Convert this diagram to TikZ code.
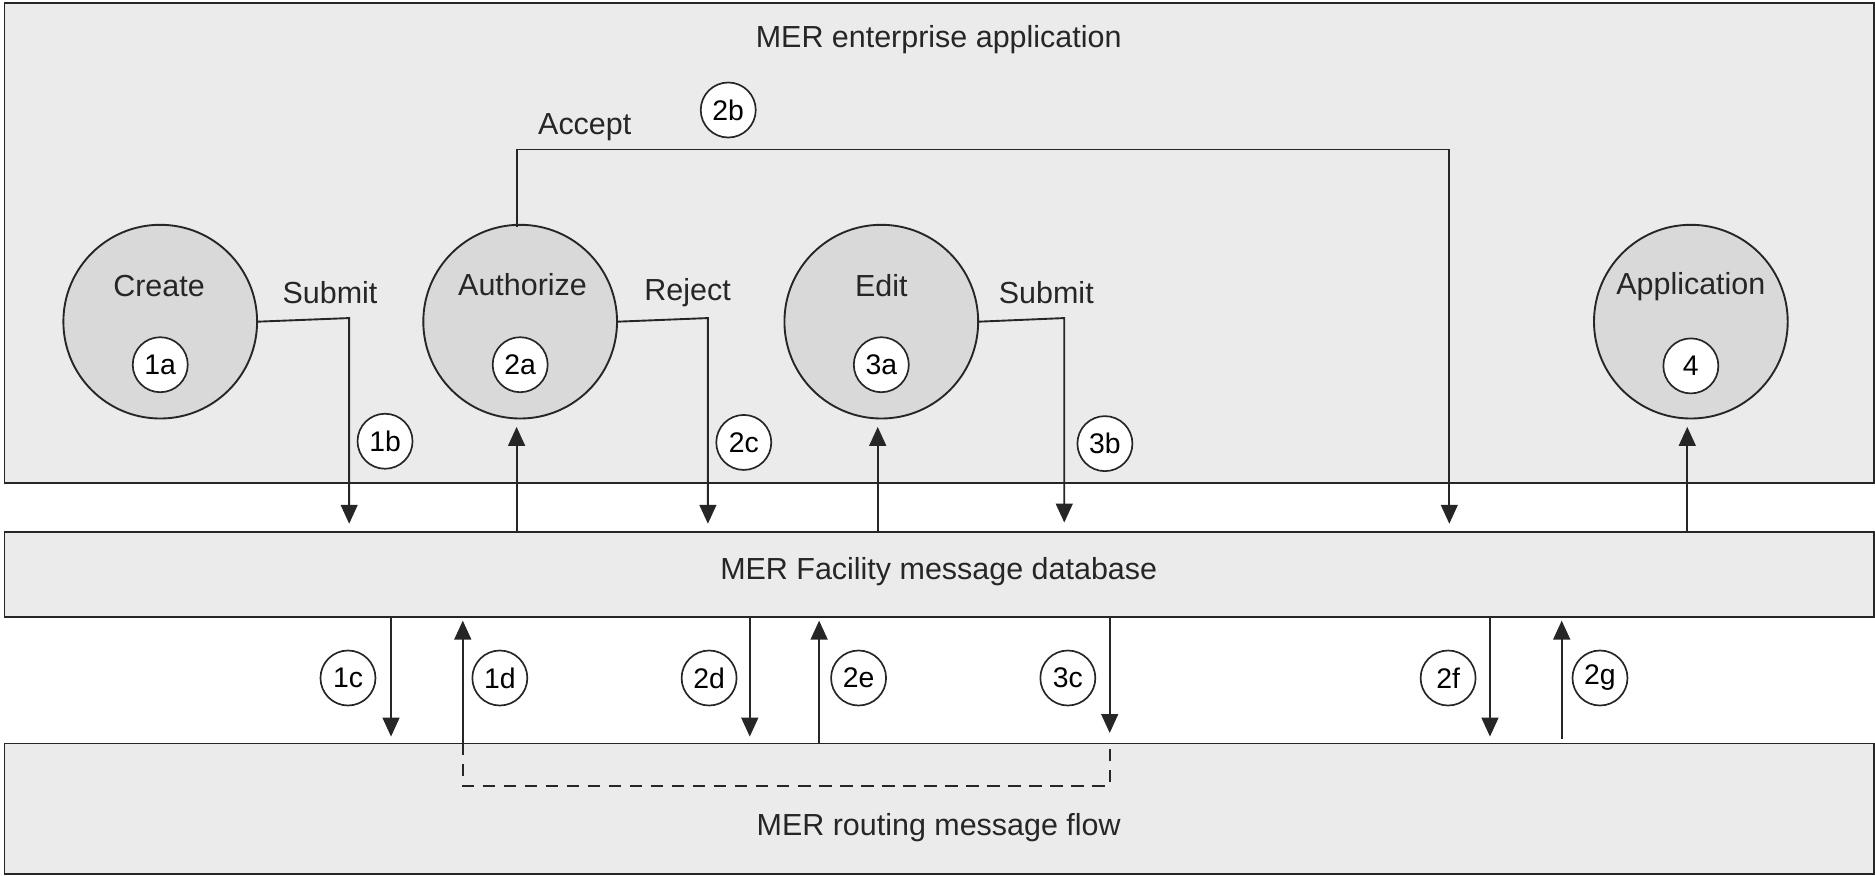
\documentclass[tikz,border=0pt]{standalone}
\usepackage{fontspec}
\setmainfont{Liberation Sans}
\usetikzlibrary{arrows.meta}
\begin{document}
\begin{tikzpicture}[x=0.02cm,y=-0.02cm,
  box/.style={draw=black!85,line width=0.9pt,fill=black!8},
  big/.style={draw=black!85,line width=0.9pt,fill=black!15,circle,minimum size={162*0.02cm},inner sep=0pt},
  num/.style={draw=black!85,line width=0.8pt,fill=white,circle,minimum size={46*0.02cm},inner sep=0pt,font=\fontsize{13.5}{14}\selectfont},
  lbl/.style={font=\fontsize{14.5}{16}\selectfont,text=black!85},
  con/.style={line width=0.9pt,draw=black!85},
  arr/.style={con,-{Triangle[length=9pt,width=8pt]}}]
\useasboundingbox (0,0) rectangle (1568,732);
\node[box,minimum width={1563*0.02cm},minimum height={401*0.02cm},anchor=north west] (top) at (3,2) {};
\node[lbl] (ttl) at (785,33) {MER enterprise application};
\node[box,minimum width={1563*0.02cm},minimum height={71*0.02cm},anchor=north west] (fac) at (3,444) {};
\node[lbl] (facl) at (785,478) {MER Facility message database};
\node[box,minimum width={1563*0.02cm},minimum height={109*0.02cm},anchor=north west] (rt) at (3,621) {};
\node[lbl] (rtl) at (785,692) {MER routing message flow};
% circles
\node[big] (cr) at (134,269) {}; \node[lbl] at (133,239) {Create}; \node[num] (n1a) at (134,305) {1a};
\node[big] (au) at (435,269) {}; \node[lbl] at (437,238) {Authorize}; \node[num] (n2a) at (435,305) {2a};
\node[big] (ed) at (737,269) {}; \node[lbl] at (737,239) {Edit}; \node[num] (n3a) at (737,305) {3a};
\node[big] (ap) at (1414,269) {}; \node[lbl] at (1414,240) {Application}; \node[num] (n4) at (1414,306) {4};
% top connectors
\coordinate (e1b) at (292,438);
\draw[arr] (cr.east) -- (292,266) -- (e1b);
\node[lbl] at (276,245) {Submit}; \node[num] (n1b) at (322,369) {1b};
\draw[arr] (432,444) -- (432,357);
\draw[arr] (au.north -| 432,0) ++(0,3) -- (432,125) -- (1212,125) -- (1212,438);
\node[lbl] at (489,106) {Accept}; \node[num] (n2b) at (609,92) {2b};
\draw[arr] (au.east) -- (592,266) -- (592,438);
\node[lbl] at (575,245) {Reject}; \node[num] (n2c) at (622,370) {2c};
\draw[arr] (734,444) -- (734,357);
\draw[arr] (ed.east) -- (890,266) -- (890,437);
\node[lbl] at (875,245) {Submit}; \node[num] (n3b) at (924,371) {3b};
\draw[arr] (1411,444) -- (1411,357);
% bottom connectors
\draw[arr] (327,515) -- (327,616); \node[num] (n1c) at (291,567) {1c};
\draw[arr] (387,621) -- (387,519); \node[num] (n1d) at (418,567) {1d};
\draw[arr] (627,515) -- (627,616); \node[num] (n2d) at (593,567) {2d};
\draw[arr] (685,621) -- (685,519); \node[num] (n2e) at (718,567) {2e};
\draw[arr] (928,515) -- (928,613); \node[num] (n3c) at (893,567) {3c};
\draw[arr] (1246,515) -- (1246,616); \node[num] (n2f) at (1211,567) {2f};
\draw[arr] (1306,618) -- (1306,519); \node[num] (n2g) at (1338,567) {2g};
\draw[con,dashed,dash pattern=on 6pt off 4pt] (387,621) -- (387,657) -- (928,657) -- (928,621);
\end{tikzpicture}
\end{document}
